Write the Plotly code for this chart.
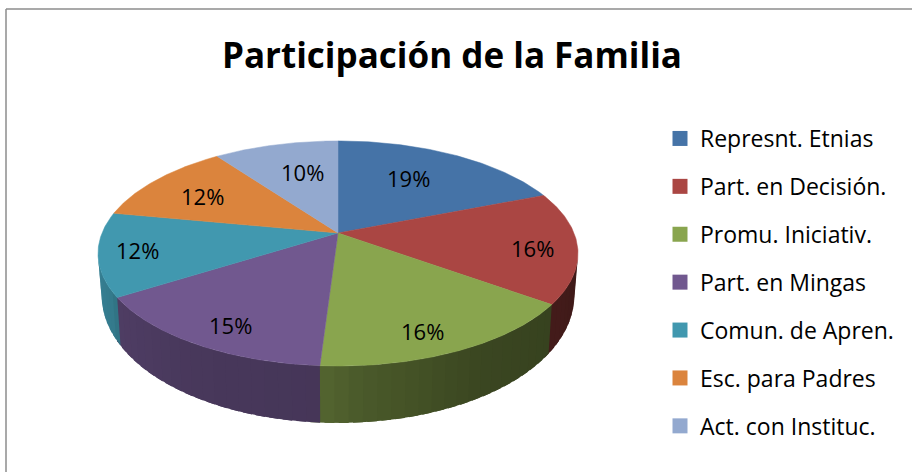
import numpy as np
import plotly.graph_objects as go

# ---- data ----
categories = ["Represnt. Etnias", "Part. en Decisión.", "Promu. Iniciativ.", "Part. en Mingas",
              "Comun. de Apren.", "Esc. para Padres", "Act. con Instituc."]
values = [19, 16, 16, 15, 12, 12, 10]
colors = ["#4573A7", "#AA4643", "#89A54E", "#71588F", "#4198AF", "#DB843D", "#93A9CF"]
title = "Participación de la Familia"

# ---- projection of the 3D disc into the pixel-sized axes ----
W, H = 912, 472
CX, CY, A, B, K = 338, 233, 108.8, 236, 0.182
FONT = "Open Sans"


def top(theta, r=1.0):
    t = np.radians(theta)
    u, v = r * np.sin(t), r * np.cos(t)
    d = 1 + K * v
    return CX + B * u / d, CY - A * v / d


def bottom(theta):
    x, y = top(theta)
    v = np.cos(np.radians(theta))
    return CX + (x - CX) * 0.985, y + 38 - 19 * v


shares = np.array(values) / sum(values)
edges = np.concatenate([[0], np.cumsum(shares) * 360])

SIDE_A, SIDE_B = 100.5, 259.5
shade_theta = [100, 125, 150, 176, 184, 210, 237, 240, 260]
shade_value = [.36, .40, .43, .55, .62, .64, .70, .80, .85]


def darker(hex_color, f):
    rgb = [int(hex_color[i:i + 2], 16) for i in (1, 3, 5)]
    return "rgb({},{},{})".format(*[int(c * f) for c in rgb])


fig = go.Figure()

# side wall: overlapping strips so that no seams show
for i in range(len(values)):
    a, b = max(edges[i], SIDE_A), min(edges[i + 1], SIDE_B)
    if a >= b:
        continue
    cuts = np.linspace(a, b, int((b - a) / 3) + 2)
    for t0, t1 in zip(cuts[:-1], cuts[1:]):
        th = np.linspace(t0, min(t1 + 2, SIDE_B), 6)
        tx, ty = top(th)
        bx, by = bottom(th)
        col = darker(colors[i], float(np.interp((t0 + t1) / 2, shade_theta, shade_value)))
        fig.add_trace(go.Scatter(
            x=np.r_[tx, bx[::-1], tx[0]], y=np.r_[ty, by[::-1], ty[0]],
            mode="lines", fill="toself", fillcolor=col, line=dict(width=0),
            hoverinfo="skip", showlegend=False))

# top face
for i, name in enumerate(categories):
    th = np.linspace(edges[i], edges[i + 1], 80)
    x, y = top(th)
    fig.add_trace(go.Scatter(
        x=np.r_[CX, x, CX], y=np.r_[CY, y, CY], mode="lines", fill="toself",
        fillcolor=colors[i], line=dict(color=colors[i], width=0.5), name=name,
        legendgroup=name, showlegend=False, hoverinfo="name"))

# legend entries
for i, name in enumerate(categories):
    fig.add_trace(go.Scatter(
        x=[None], y=[None], mode="markers", name=name, legendgroup=name,
        marker=dict(symbol="square", size=15, color=colors[i])))

# percentage labels
nudges = [(-5, -4), (47, 6), (15, 30), (-25, 28), (-54, 4), (-19, -3), (5, -3)]
annotations = []
for i, v in enumerate(values):
    mx, my = top((edges[i] + edges[i + 1]) / 2, 0.62)
    annotations.append(dict(x=float(mx), y=float(my), text=f"{v}%", showarrow=False,
                            xshift=nudges[i][0], yshift=-nudges[i][1],
                            font=dict(family=FONT, size=22, color="#000000")))

frame = dict(line=dict(color="#8C8C8C", width=1.5), xref="x", yref="y", type="line")
fig.update_layout(
    width=W, height=H, margin=dict(l=0, r=0, t=0, b=0),
    paper_bgcolor="white", plot_bgcolor="white",
    xaxis=dict(range=[0, W], visible=False, fixedrange=True),
    yaxis=dict(range=[H, 0], visible=False, fixedrange=True),
    title=dict(text=f"<b>{title}</b>", x=452 / W, xanchor="center", y=1 - 56 / H, yanchor="middle",
               font=dict(family=FONT, size=35, color="#000000")),
    legend=dict(x=660 / W, xanchor="left", y=1 - 117 / H, yanchor="top", tracegroupgap=15,
                font=dict(family=FONT, size=23, color="#000000"), bgcolor="rgba(0,0,0,0)",
                itemclick=False, itemdoubleclick=False),
    annotations=annotations,
    shapes=[dict(x0=6, x1=6, y0=9, y1=H, **frame), dict(x0=6, x1=W, y0=9, y1=9, **frame)],
)
fig.write_html("out.html", config=dict(displayModeBar=False),
               post_script="document.body.style.margin='0';")
